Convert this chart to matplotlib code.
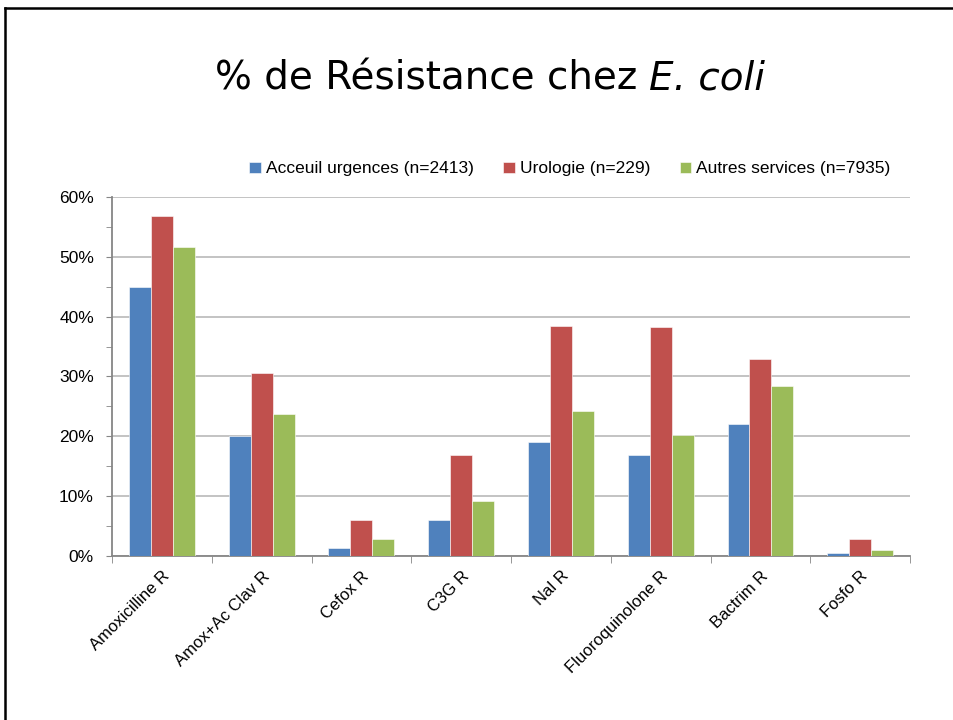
import matplotlib
matplotlib.use("Agg")
import matplotlib.pyplot as plt
import numpy as np
from matplotlib.lines import Line2D
from matplotlib.ticker import MultipleLocator, PercentFormatter

# ---- data ------------------------------------------------------------
categories = ["Amoxicilline R", "Amox+Ac Clav R", "Cefox R", "C3G R",
              "Nal R", "Fluoroquinolone R", "Bactrim R", "Fosfo R"]
series_names = ["Acceuil urgences (n=2413)", "Urologie (n=229)",
                "Autres services (n=7935)"]
urgences = [45.0, 20.0, 1.3, 6.0, 19.0, 16.8, 22.0, 0.45]
urologie = [56.8, 30.5, 6.0, 16.9, 38.4, 38.2, 32.9, 2.9]
autres = [51.6, 23.8, 2.9, 9.2, 24.3, 20.2, 28.4, 0.95]
yticks = [0, 10, 20, 30, 40, 50, 60]

colours = ["#4F81BD", "#C0504D", "#9BBB59"]
font = "Liberation Sans"

fig = plt.figure(figsize=(9.54, 7.2), dpi=100)
ax = fig.add_axes([0.1174, 0.2278, 0.8366, 0.4986])

x = np.arange(len(categories))
w = 0.22
for i, (vals, name) in enumerate(zip([urgences, urologie, autres], series_names)):
    ax.bar(x + (i - 1) * w, vals, width=w, color=colours[i], label=name,
           edgecolor="white", linewidth=0.4, zorder=3)

ax.set_xlim(-0.5, len(categories) - 0.5)
ax.set_ylim(0, 60)
ax.set_yticks(yticks)
ax.yaxis.set_minor_locator(MultipleLocator(5))
ax.yaxis.set_major_formatter(PercentFormatter(decimals=0))
ax.grid(axis="y", color="#BEBEBE", linewidth=1.3, zorder=0)

ax.set_xticks(x)
ax.set_xticklabels(categories, rotation=45, ha="right", rotation_mode="anchor",
                   fontsize=12, family=font)
ax.set_xticks(np.arange(len(categories) + 1) - 0.5, minor=True)
ax.tick_params(axis="x", which="major", length=0, pad=9)
ax.tick_params(axis="x", which="minor", length=5, color="#868686", direction="out")
ax.tick_params(axis="y", which="both", length=4, color="#868686", direction="out")
ax.tick_params(axis="y", which="major", pad=9)
for lab in ax.get_yticklabels():
    lab.set_fontfamily(font)
    lab.set_fontsize(12.5)

for side in ["top", "right"]:
    ax.spines[side].set_visible(False)
for side in ["left", "bottom"]:
    ax.spines[side].set_color("#868686")
    ax.spines[side].set_linewidth(1.3)

fig.legend(loc="center", bbox_to_anchor=(570 / 954, 1 - 169 / 720), ncol=3,
           frameon=False, handlelength=0.65, handleheight=0.65,
           handletextpad=0.3, columnspacing=1.7,
           prop={"family": font, "size": 12.5})

# ---- title: regular part + italic species name ------------------------
t1 = fig.text(0.5, 1 - 78 / 720, "% de Résistance chez ", fontsize=28,
              ha="left", va="center", family="DejaVu Sans")
t2 = fig.text(0.5, 1 - 78 / 720, "E. coli", fontsize=28, style="italic",
              ha="left", va="center", family="DejaVu Sans")
fig.canvas.draw()
r = fig.canvas.get_renderer()
w1 = t1.get_window_extent(r).width
w2 = t2.get_window_extent(r).width
cx = 490
start = cx - (w1 + w2) / 2
t1.set_x(start / 954)
t2.set_x((start + w1) / 954)

# ---- slide frame (top and left edges) ---------------------------------
fig.add_artist(Line2D([5 / 954, 1], [1 - 8 / 720, 1 - 8 / 720],
                      transform=fig.transFigure, color="black", linewidth=1.8))
fig.add_artist(Line2D([5 / 954, 5 / 954], [0, 1 - 8 / 720],
                      transform=fig.transFigure, color="black", linewidth=1.8))

fig.savefig("out.png", dpi=100)
